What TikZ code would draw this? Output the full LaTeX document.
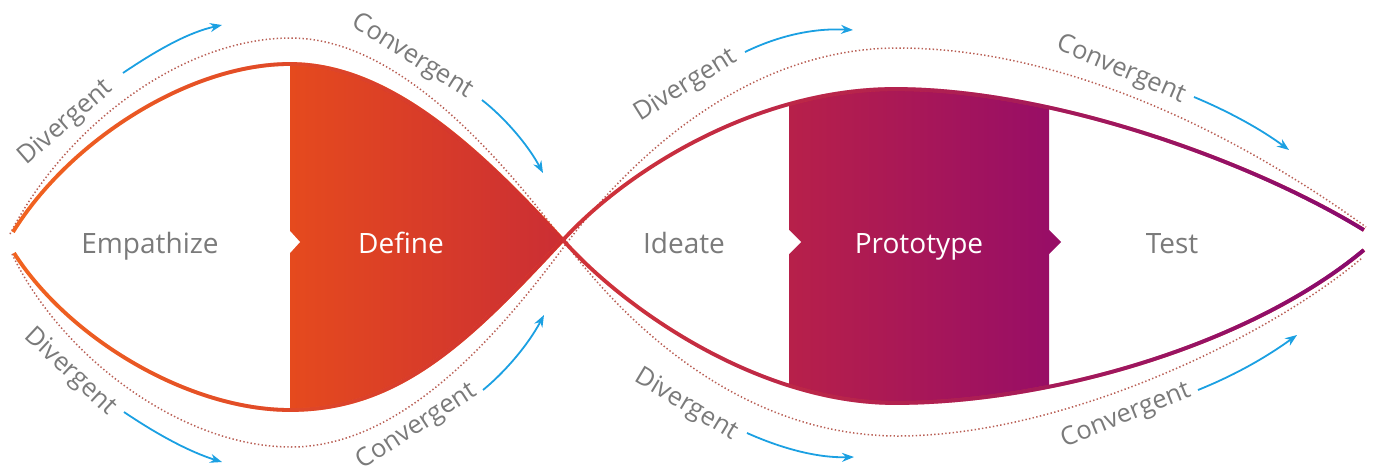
\documentclass[tikz,border=0pt]{standalone}
\usepackage{fontspec}
\setmainfont{Open Sans}
\usetikzlibrary{arrows.meta,fadings}
\definecolor{orA}{RGB}{242,100,32}
\definecolor{rdA}{RGB}{206,46,50}
\definecolor{rdB}{RGB}{210,52,56}
\definecolor{puB}{RGB}{136,10,112}
\definecolor{defL}{RGB}{229,74,30}
\definecolor{defR}{RGB}{203,46,52}
\definecolor{proL}{RGB}{183,32,74}
\definecolor{proR}{RGB}{152,14,102}
\definecolor{arr}{RGB}{27,160,226}
\definecolor{dotc}{RGB}{185,95,85}
\definecolor{txt}{RGB}{122,122,122}
\tikzfading[name=toright, left color=transparent!100, right color=transparent!0]
\tikzset{
 lensline/.style={line width=3.8pt},
 dotline/.style={dotc, line width=1.5pt, dash pattern=on 1.4pt off 2.3pt},
 flowarrow/.style={arr, line width=1.8pt, -{Stealth[length=12pt,width=9pt]}},
 phase/.style={font=\fontsize{28}{31}\selectfont, text=txt, inner sep=0pt, anchor=base},
 phasew/.style={phase, text=white},
 arclabel/.style={font=\fontsize{25.5}{29}\selectfont, text=txt, inner sep=0pt},
}
\begin{document}
\begin{tikzpicture}[x=1pt,y=-1pt]
\useasboundingbox (0,0) rectangle (1376,474);
% Define fill
\shade[left color=defL, right color=defR] (290,64) .. controls (390,64) and (480,150) .. (563,240) .. controls (470,340) and (400,410) .. (290,410) -- cycle;
% Prototype fill
\begin{scope}
\clip (563,240) .. controls (630,167) and (760,89) .. (895,89) .. controls (1050,89) and (1250,160) .. (1364,230) -- (1364,250) .. controls (1250,345) and (1050,403) .. (895,403) .. controls (760,403) and (625,310) .. (563,240) -- cycle;
\shade[left color=proL, right color=proR] (789,0) rectangle (1049,474);
\end{scope}
% chevron points
\fill[white] (290,231) -- (300,242) -- (290,253) -- cycle;
\fill[white] (789,230) -- (801,242) -- (789,254) -- cycle;
\fill[proR] (1048,229) -- (1061,242) -- (1048,255) -- cycle;
% dotted outer curves
\draw[dotline] (10,234) .. controls (66,125) and (183,38) .. (291,38) .. controls (395,38) and (495,150) .. (566,244) .. controls (645,348) and (760,436) .. (898,436) .. controls (1060,436) and (1265,340) .. (1362,258);
\draw[dotline] (12,254) .. controls (62,358) and (183,447) .. (291,447) .. controls (400,447) and (495,340) .. (566,244) .. controls (645,140) and (760,48) .. (898,48) .. controls (1080,48) and (1260,150) .. (1366,227);
% lens lines
\draw[lensline, orA] (13,232) .. controls (70,140) and (190,64) .. (290,64) .. controls (390,64) and (480,150) .. (563,240);
\draw[lensline, rdA, path fading=toright] (13,232) .. controls (70,140) and (190,64) .. (290,64) .. controls (390,64) and (480,150) .. (563,240);
\draw[lensline, orA] (14,253) .. controls (70,340) and (190,410) .. (290,410) .. controls (400,410) and (470,340) .. (563,240);
\draw[lensline, rdA, path fading=toright] (14,253) .. controls (70,340) and (190,410) .. (290,410) .. controls (400,410) and (470,340) .. (563,240);
\draw[lensline, rdB] (563,240) .. controls (630,167) and (760,89) .. (895,89) .. controls (1050,89) and (1250,160) .. (1364,230);
\draw[lensline, puB, path fading=toright] (563,240) .. controls (630,167) and (760,89) .. (895,89) .. controls (1050,89) and (1250,160) .. (1364,230);
\draw[lensline, rdB] (563,240) .. controls (625,310) and (760,403) .. (895,403) .. controls (1050,403) and (1250,345) .. (1364,250);
\draw[lensline, puB, path fading=toright] (563,240) .. controls (625,310) and (760,403) .. (895,403) .. controls (1050,403) and (1250,345) .. (1364,250);
% phase labels
\node[phase] (emp) at (150,253) {Empathize};
\node[phasew] (def) at (401,253) {Define};
\node[phase] (ide) at (684,253) {Ideate};
\node[phasew] (pro) at (919,253) {Prototype};
\node[phase] (tst) at (1172,253) {Test};
% arc labels
\node[arclabel, rotate=41] (l1) at (66,123) {Divergent};
\node[arclabel, rotate=-32] (l2) at (412,57) {Convergent};
\node[arclabel, rotate=-43] (l3) at (70,372) {Divergent};
\node[arclabel, rotate=33] (l4) at (417,427) {Convergent};
\node[arclabel, rotate=32] (l5) at (686,86) {Divergent};
\node[arclabel, rotate=-23] (l6) at (1121,70) {Convergent};
\node[arclabel, rotate=-31] (l7) at (686,405) {Divergent};
\node[arclabel, rotate=22] (l8) at (1126,416) {Convergent};
% arrows
\coordinate (a1s) at (123,73); \coordinate (a1e) at (222,25);
\coordinate (a2s) at (482,100); \coordinate (a2e) at (543,173);
\coordinate (a3s) at (124,412); \coordinate (a3e) at (222,462);
\coordinate (a4s) at (483,390); \coordinate (a4e) at (544,315);
\coordinate (a5s) at (745,52); \coordinate (a5e) at (853,30);
\coordinate (a6s) at (1194,97); \coordinate (a6e) at (1289,150);
\coordinate (a7s) at (747,433); \coordinate (a7e) at (854,457);
\coordinate (a8s) at (1198,390); \coordinate (a8e) at (1297,335);
\draw[flowarrow] (a1s) .. controls (160,48) and (190,32) .. (a1e);
\draw[flowarrow] (a2s) .. controls (505,118) and (528,145) .. (a2e);
\draw[flowarrow] (a3s) .. controls (158,435) and (190,452) .. (a3e);
\draw[flowarrow] (a4s) .. controls (505,372) and (528,345) .. (a4e);
\draw[flowarrow] (a5s) .. controls (780,35) and (815,28) .. (a5e);
\draw[flowarrow] (a6s) .. controls (1230,112) and (1262,130) .. (a6e);
\draw[flowarrow] (a7s) .. controls (785,450) and (820,458) .. (a7e);
\draw[flowarrow] (a8s) .. controls (1235,375) and (1265,358) .. (a8e);
\end{tikzpicture}
\end{document}
